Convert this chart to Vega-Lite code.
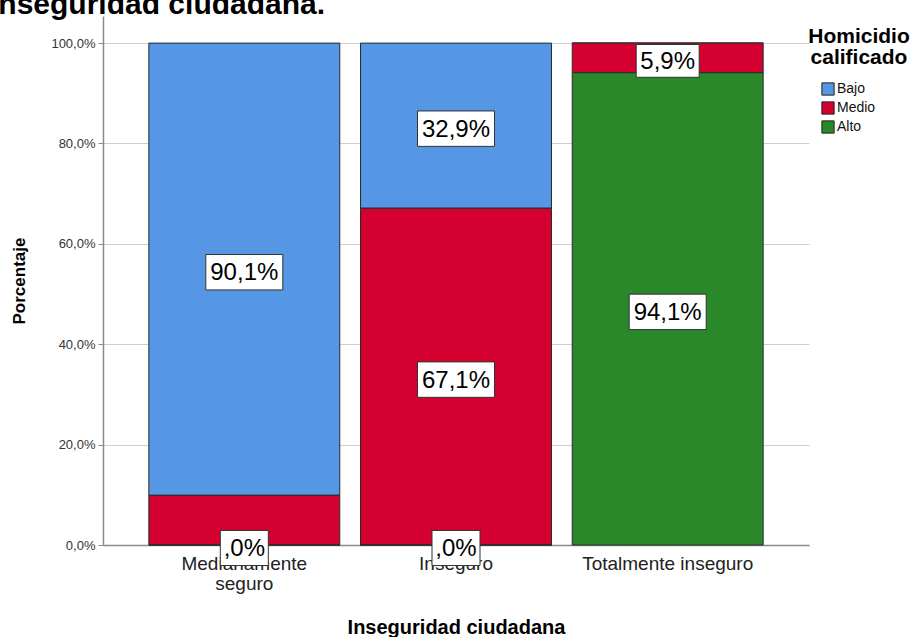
{
  "$schema": "https://vega.github.io/schema/vega-lite/v6.json",
  "width": 706,
  "height": 529,
  "autosize": {"type": "none"},
  "padding": {"left": 103, "top": 16, "right": 110, "bottom": 92},
  "background": "white",
  "title": {
    "text": "Inseguridad ciudadana.",
    "anchor": "start",
    "frame": "group",
    "font": "Liberation Sans",
    "fontSize": 30,
    "fontWeight": "bold",
    "color": "#000000",
    "baseline": "alphabetic",
    "offset": 0,
    "dx": -113,
    "dy": 28
  },
  "data": {
    "values": [
      {"categoria": "Medianamente seguro", "nivel": "Bajo", "codigo": 1, "valor": 90.1, "etiqueta": "90,1%"},
      {"categoria": "Medianamente seguro", "nivel": "Medio", "codigo": 2, "valor": 9.9, "etiqueta": ""},
      {"categoria": "Medianamente seguro", "nivel": "Alto", "codigo": 3, "valor": 0.0, "etiqueta": ",0%"},
      {"categoria": "Inseguro", "nivel": "Bajo", "codigo": 1, "valor": 32.9, "etiqueta": "32,9%"},
      {"categoria": "Inseguro", "nivel": "Medio", "codigo": 2, "valor": 67.1, "etiqueta": "67,1%"},
      {"categoria": "Inseguro", "nivel": "Alto", "codigo": 3, "valor": 0.0, "etiqueta": ",0%"},
      {"categoria": "Totalmente inseguro", "nivel": "Bajo", "codigo": 1, "valor": 0.0, "etiqueta": ""},
      {"categoria": "Totalmente inseguro", "nivel": "Medio", "codigo": 2, "valor": 5.9, "etiqueta": "5,9%"},
      {"categoria": "Totalmente inseguro", "nivel": "Alto", "codigo": 3, "valor": 94.1, "etiqueta": "94,1%"}
    ]
  },
  "config": {
    "view": {"stroke": null},
    "axis": {"labelFont": "Liberation Sans", "titleFont": "Liberation Sans", "titleColor": "#000000", "titleFontWeight": "bold"},
    "legend": {"labelFont": "Liberation Sans", "titleFont": "Liberation Sans"}
  },
  "encoding": {
    "x": {
      "field": "categoria",
      "type": "nominal",
      "sort": ["Medianamente seguro", "Inseguro", "Totalmente inseguro"],
      "scale": {"paddingInner": 0.098, "paddingOuter": 0.2165},
      "title": "Inseguridad ciudadana",
      "axis": {
        "labelAngle": 0,
        "ticks": false,
        "grid": false,
        "domainColor": "#8a8a8a",
        "domainWidth": 1.5,
        "labelFontSize": 19,
        "labelColor": "#222222",
        "labelPadding": 9,
        "labelLineHeight": 20,
        "labelExpr": "datum.label == 'Medianamente seguro' ? ['Medianamente', 'seguro'] : datum.label",
        "titleFontSize": 20,
        "titlePadding": 24
      }
    }
  },
  "layer": [
    {
      "mark": {"type": "bar", "stroke": "#2a2a2a", "strokeWidth": 1},
      "encoding": {
        "y": {
          "field": "valor",
          "type": "quantitative",
          "stack": "zero",
          "title": "Porcentaje",
          "scale": {"domain": [0, 105.4], "nice": false},
          "axis": {
            "values": [0, 20, 40, 60, 80, 100],
            "labelExpr": "replace(format(datum.value, '.1f'), '.', ',') + '%'",
            "grid": true,
            "gridColor": "#cfcfcf",
            "gridWidth": 1,
            "domainColor": "#8a8a8a",
            "domainWidth": 1.5,
            "tickColor": "#8a8a8a",
            "tickSize": 5,
            "labelFontSize": 13,
            "labelColor": "#333333",
            "labelPadding": 3,
            "titleFontSize": 17,
            "titlePadding": 22
          }
        },
        "color": {
          "field": "nivel",
          "type": "nominal",
          "scale": {"domain": ["Bajo", "Medio", "Alto"], "range": ["#5596E5", "#D40030", "#2A882A"]},
          "legend": {
            "title": ["Homicidio", "calificado"],
            "orient": "none",
            "legendX": 705,
            "legendY": 10,
            "titleFontSize": 21,
            "titleFontWeight": "bold",
            "titleColor": "#000000",
            "titleLineHeight": 21,
            "titleAlign": "center",
            "titleAnchor": "middle",
            "titlePadding": 14,
            "symbolType": "square",
            "symbolSize": 150,
            "symbolStrokeColor": "#222222",
            "symbolStrokeWidth": 1,
            "symbolOpacity": 1,
            "symbolOffset": -22,
            "labelFontSize": 14,
            "labelColor": "#111111",
            "labelOffset": 2,
            "rowPadding": 1
          }
        },
        "order": {"field": "codigo", "sort": "descending"}
      }
    },
    {
      "transform": [
        {"stack": "valor", "groupby": ["categoria"], "sort": [{"field": "codigo", "order": "descending"}], "as": ["v0", "v1"]},
        {"filter": "datum.etiqueta != ''"},
        {"fold": ["v0", "v1"], "as": ["extremo", "pos"]}
      ],
      "encoding": {
        "y": {"aggregate": "mean", "field": "pos", "type": "quantitative", "title": "Porcentaje"},
        "detail": [{"field": "nivel"}, {"field": "etiqueta"}]
      },
      "layer": [
        {
          "transform": [{"filter": "length(datum.etiqueta) == 5"}],
          "mark": {"type": "point", "shape": "M-1,-0.46H1V0.46H-1Z", "size": 5929, "filled": true, "fill": "white", "stroke": "#333333", "strokeWidth": 1, "opacity": 1, "yOffset": 3}
        },
        {
          "transform": [{"filter": "length(datum.etiqueta) == 4"}],
          "mark": {"type": "point", "shape": "M-1,-0.52H1V0.52H-1Z", "size": 3969, "filled": true, "fill": "white", "stroke": "#333333", "strokeWidth": 1, "opacity": 1, "yOffset": 3}
        },
        {
          "transform": [{"filter": "length(datum.etiqueta) == 3"}],
          "mark": {"type": "point", "shape": "M-1,-0.73H1V0.73H-1Z", "size": 2304, "filled": true, "fill": "white", "stroke": "#333333", "strokeWidth": 1, "opacity": 1, "yOffset": 3}
        },
        {
          "mark": {"type": "text", "font": "Liberation Sans", "fontSize": 24, "color": "#000000", "baseline": "middle", "align": "center", "dy": 4},
          "encoding": {"text": {"field": "etiqueta", "type": "nominal"}}
        }
      ]
    }
  ]
}
